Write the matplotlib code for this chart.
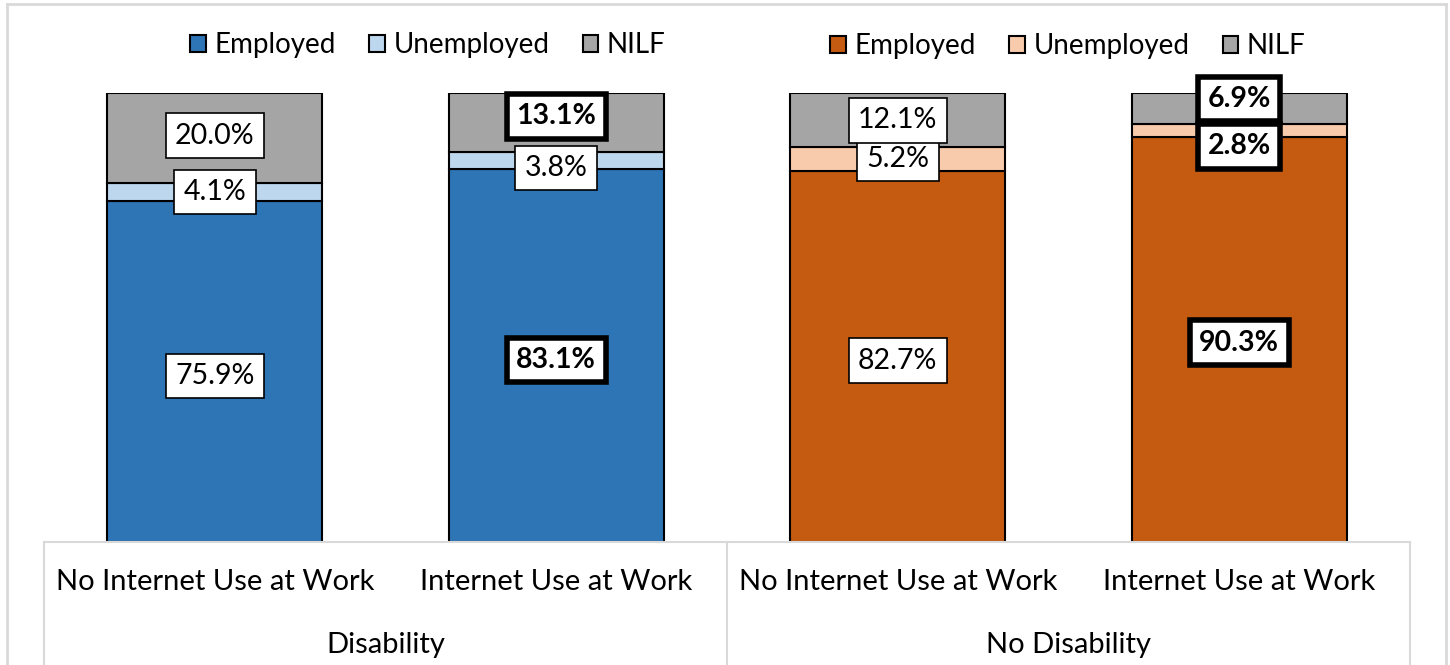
import matplotlib
matplotlib.use("Agg")
import matplotlib.pyplot as plt
from matplotlib.lines import Line2D
from matplotlib.patches import Patch

categories = ["No Internet Use at Work", "Internet Use at Work",
              "No Internet Use at Work", "Internet Use at Work"]
groups = ["Disability", "No Disability"]
employed = [75.9, 83.1, 82.7, 90.3]
unemployed = [4.1, 3.8, 5.2, 2.8]
nilf = [20.0, 13.1, 12.1, 6.9]
bold_emp = [False, True, False, True]
bold_unemp = [False, False, False, True]
bold_nilf = [False, True, False, True]
series_names = ["Employed", "Unemployed", "NILF"]

# layout / style
W, H = 1450, 665
colors_dis = ["#2E75B6", "#BDD7EE", "#A5A5A5"]
colors_nodis = ["#C55A11", "#F8CBAD", "#A5A5A5"]
nilf_nudge = [0.5, 1.4, 0, 2.1]      # label offsets (percentage points) to avoid overlap
unemp_nudge = [0, -1.7, 0, -3.6]
emp_nudge = [-1, -1, -1, -0.8]
FONT = "Lato"
FS = 21
FS_LAB = 20.5
FS_LEG = 20

plt.rcParams["font.family"] = [FONT, "DejaVu Sans"]

fig = plt.figure(figsize=(W / 100, H / 100), dpi=100)
ax = fig.add_axes([44 / W, (H - 542) / H, 1366 / W, 449 / H])
ax.set_xlim(-0.5, 3.5)
ax.set_ylim(0, 100)
ax.axis("off")

x = list(range(len(categories)))
bw = 0.63
for i in x:
    cols = colors_dis if i < 2 else colors_nodis
    ax.bar(i, employed[i], bw, color=cols[0], edgecolor="black", linewidth=1.5, zorder=2)
    ax.bar(i, unemployed[i], bw, bottom=employed[i], color=cols[1], edgecolor="black", linewidth=1.5, zorder=2)
    ax.bar(i, nilf[i], bw, bottom=employed[i] + unemployed[i], color=cols[2], edgecolor="black", linewidth=1.5, zorder=2)

    def lab(y, v, bold):
        ax.text(i, y, f"{v:.1f}%", ha="center", va="center", fontsize=FS_LAB,
                fontweight="bold" if bold else "normal", zorder=5,
                bbox=dict(boxstyle="square,pad=0.33", fc="white", ec="black",
                          lw=4 if bold else 1.2))

    lab(employed[i] / 2 + emp_nudge[i], employed[i], bold_emp[i])
    lab(employed[i] + unemployed[i] / 2 + unemp_nudge[i], unemployed[i], bold_unemp[i])
    lab(employed[i] + unemployed[i] + nilf[i] / 2 + nilf_nudge[i], nilf[i], bold_nilf[i])

def legend_handles(cols):
    return [Patch(facecolor=c, edgecolor="black", linewidth=1.5) for c in cols]

leg_kw = dict(ncol=3, frameon=False, fontsize=FS_LEG, handlelength=0.55, handleheight=0.55,
              handletextpad=0.32, columnspacing=1.2, loc="center")
fig.legend(legend_handles(colors_dis), series_names,
           bbox_to_anchor=(428 / W, 1 - 45 / H), **leg_kw)
fig.legend(legend_handles(colors_nodis), series_names,
           bbox_to_anchor=(1068 / W, 1 - 46 / H), **leg_kw)

# category table lines
gray = "#D9D9D9"
def fline(x0, y0, x1, y1, lw=1.5):
    fig.add_artist(Line2D([x0 / W, x1 / W], [1 - y0 / H, 1 - y1 / H], color=gray, lw=lw, zorder=10))

fline(44, 542, 1410, 542)
for xv in (44, 727, 1410):
    fline(xv, 542, xv, 665)
# outer border
fline(7, 4, 1446, 4, 2)
fline(7, 4, 7, 665, 2)
fline(1446, 4, 1446, 665, 2)

for i, c in enumerate(categories):
    cx = (44 + (i + 0.5) * 341.5) / W
    fig.text(cx, 1 - 582 / H, c, ha="center", va="center", fontsize=FS)
for g, name in enumerate(groups):
    cx = (44 + (g + 0.5) * 683) / W
    fig.text(cx, 1 - 645 / H, name, ha="center", va="center", fontsize=FS)

fig.savefig("out.png", dpi=100)
